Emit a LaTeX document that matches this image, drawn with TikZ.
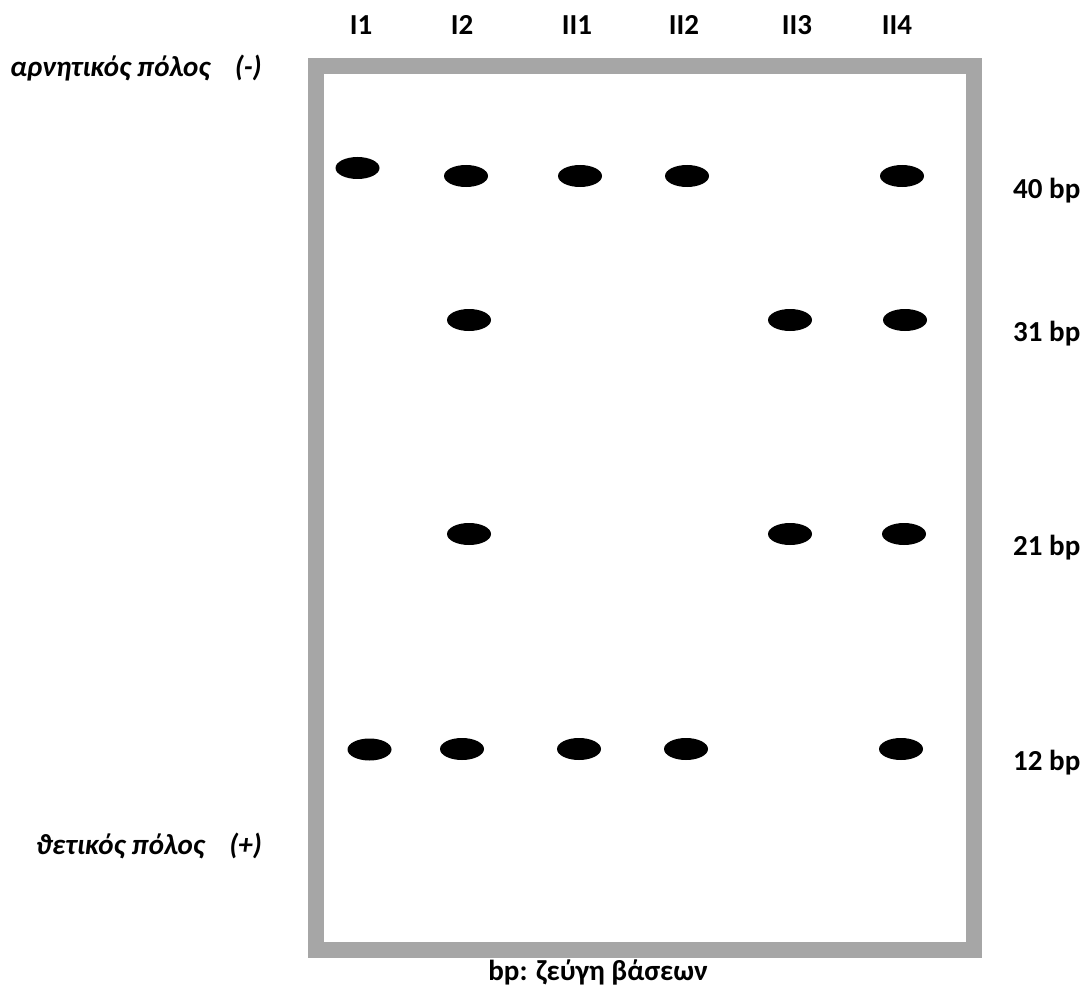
\documentclass[tikz,border=0pt]{standalone}
\usepackage{fontspec}
\setmainfont{Carlito}
\usetikzlibrary{shapes.geometric}
\definecolor{gelgray}{RGB}{166,166,166}
\begin{document}
\begin{tikzpicture}[x=1pt,y=-1pt,
  band/.style={ellipse, fill=black, minimum width=44pt, minimum height=22pt, inner sep=0pt},
  lab/.style={font=\bfseries\fontsize{29}{34}\selectfont, inner sep=0pt},
  pole/.style={font=\bfseries\itshape\fontsize{29}{34}\selectfont, inner sep=0pt, anchor=base east}]
\useasboundingbox (0,0) rectangle (1091,987);
\draw[gelgray, line width=16pt] (316,66) rectangle (974,949.5);
% lane labels
\node[lab] (l1) at (361,25) {I1};
\node[lab] (l2) at (462,25) {I2};
\node[lab] (l3) at (577,25) {II1};
\node[lab] (l4) at (684,25) {II2};
\node[lab] (l5) at (797,25) {II3};
\node[lab] (l6) at (897,25) {II4};
% poles
\node[pole] (neg) at (262,77) {αρνητικός πόλος\hspace{0.85em}(-)};
\node[pole] (pos) at (262,854) {ϑετικός πόλος\hspace{0.85em}(+)};
% size labels
\node[lab, anchor=base west] (s40) at (1013,198) {40 bp};
\node[lab, anchor=base west] (s31) at (1013,341) {31 bp};
\node[lab, anchor=base west] (s21) at (1013,555) {21 bp};
\node[lab, anchor=base west] (s12) at (1013,770) {12 bp};
\node[lab, anchor=base] (leg) at (598,980) {bp: ζεύγη βάσεων};
% bands 40 bp
\node[band] (a1) at (357.5,168) {};
\node[band] (a2) at (466,176) {};
\node[band] (a3) at (580,176) {};
\node[band] (a4) at (687,176) {};
\node[band] (a6) at (902,176) {};
% bands 31 bp
\node[band] (b2) at (469,320) {};
\node[band] (b5) at (790,320) {};
\node[band] (b6) at (905,320) {};
% bands 21 bp
\node[band] (c2) at (469,534) {};
\node[band] (c5) at (790,534) {};
\node[band] (c6) at (904,534) {};
% bands 12 bp
\node[band] (d1) at (369.5,749.5) {};
\node[band] (d2) at (462,749) {};
\node[band] (d3) at (579,749) {};
\node[band] (d4) at (686,749) {};
\node[band] (d6) at (901,749) {};
\end{tikzpicture}
\end{document}
